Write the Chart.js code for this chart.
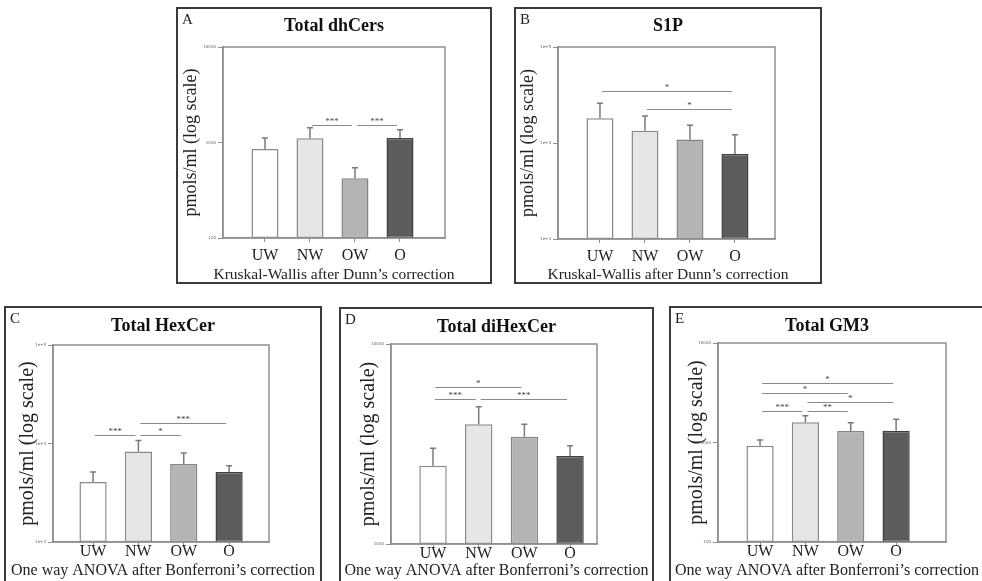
<!DOCTYPE html>
<html>
<head>
<meta charset="utf-8">
<title>Sphingolipids by weight group</title>
<script src="https://cdn.jsdelivr.net/npm/chart.js@4.4.1/dist/chart.umd.min.js"></script>
<style>
  body { margin: 0; background: #fff; }
  #page { position: relative; width: 982px; height: 581px; overflow: hidden; font-family: "Liberation Serif", "Times New Roman", serif; }
  .panel { position: absolute; outline: 2px solid #3a3a3a; outline-offset: -2px; }
  .panel canvas { position: absolute; left: 0; top: 0; }
  .letter { position: absolute; left: 6px; top: 5px; font-size: 15px; line-height: 1; color: #222; }
</style>
</head>
<body>
<div id="page"></div>
<script>
const groups = ["UW", "NW", "OW", "O"];

// A: Total dhCers
const dhCersMean = [855, 1110, 422, 1115];
const dhCersSd = [260, 320, 123, 245];
const dhCersSig = [[1, 2, 1525, "***"], [2, 3, 1525, "***"]];
const dhCersTicks = [100, 1000, 10000];
const dhCersTickLabels = ["100", "1000", "10000"];

// B: S1P
const s1pMean = [18100, 13400, 10900, 7700];
const s1pSd = [7800, 5700, 4400, 4500];
const s1pSig = [[0, 3, 35100, "*"], [1, 3, 22400, "*"]];
const s1pTicks = [1000, 10000, 100000];
const s1pTickLabels = ["1e+3", "1e+4", "1e+5"];

// C: Total HexCer
const hexCerMean = [4060, 8300, 6180, 5130];
const hexCerSd = [1070, 2400, 1820, 810];
const hexCerSig = [[0, 1, 12250, "***"], [1, 2, 12250, "*"], [1, 3, 16100, "***"]];
const hexCerTicks = [1000, 10000, 100000];
const hexCerTickLabels = ["1e+3", "1e+4", "1e+5"];

// D: Total diHexCer
const diHexCerMean = [2465, 3965, 3440, 2755];
const diHexCerSd = [545, 895, 525, 345];
const diHexCerSig = [[0, 2, 6120, "*"], [0, 1, 5310, "***"], [1, 3, 5310, "***"]];
const diHexCerTicks = [1000, 10000];
const diHexCerTickLabels = ["1000", "10000"];

// E: Total GM3
const gm3Mean = [929, 1596, 1305, 1310];
const gm3Sd = [131, 264, 275, 400];
const gm3Sig = [[0, 3, 3990, "*"], [0, 2, 3160, "*"], [1, 3, 2570, "*"], [0, 1, 2090, "***"], [1, 2, 2090, "**"]];
const gm3Ticks = [100, 1000, 10000];
const gm3TickLabels = ["100", "1000", "10000"];

const kruskal = "Kruskal-Wallis after Dunn\u2019s correction";
const anova = "One way ANOVA after Bonferroni\u2019s correction";

const SERIF = "'Liberation Serif', 'Times New Roman', serif";
const barFill = ["#ffffff", "#e6e6e6", "#b4b4b4", "#5c5c5c"];
const barEdge = ["#8a8a8a", "#8a8a8a", "#858585", "#404040"];

// panel placement on the page (px); top row and bottom row differ a bit in text sizes
const panels = [
  { letter: "A", title: "Total dhCers", footer: kruskal, mean: dhCersMean, sd: dhCersSd, sig: dhCersSig,
    ticks: dhCersTicks, tickLabels: dhCersTickLabels,
    left: 176, top: 7, divW: 316, divH: 277, w: 316, h: 277, footSize: 15.5, yTitleSize: 18, tickPad: 4,
    plot: { l: 47, t: 40, r: 269, b: 231 }, titleY: 19.2, yTitleX: 15, xMin: 0.067, xMax: 5 },
  { letter: "B", title: "S1P", footer: kruskal, mean: s1pMean, sd: s1pSd, sig: s1pSig,
    ticks: s1pTicks, tickLabels: s1pTickLabels,
    left: 514, top: 7, divW: 308, divH: 277, w: 308, h: 277, footSize: 15.5, yTitleSize: 18, tickPad: 4,
    plot: { l: 44, t: 40, r: 261, b: 232 }, titleY: 19.7, yTitleX: 14, xMin: 0.067, xMax: 4.89 },
  { letter: "C", title: "Total HexCer", footer: anova, mean: hexCerMean, sd: hexCerSd, sig: hexCerSig,
    ticks: hexCerTicks, tickLabels: hexCerTickLabels,
    left: 4, top: 306, divW: 318, divH: 290, w: 318, h: 274, footSize: 16, yTitleSize: 20, tickPad: -3.5,
    plot: { l: 49, t: 39, r: 265, b: 236 }, titleY: 20, yTitleX: 23.5, xMin: 0.117, xMax: 4.88 },
  { letter: "D", title: "Total diHexCer", footer: anova, mean: diHexCerMean, sd: diHexCerSd, sig: diHexCerSig,
    ticks: diHexCerTicks, tickLabels: diHexCerTickLabels,
    left: 339, top: 307, divW: 315, divH: 290, w: 315, h: 273, footSize: 16, yTitleSize: 20, tickPad: -3.5,
    plot: { l: 52, t: 37, r: 258, b: 237 }, titleY: 20.3, yTitleX: 30, xMin: 0.08, xMax: 4.59 },
  { letter: "E", title: "Total GM3", footer: anova, mean: gm3Mean, sd: gm3Sd, sig: gm3Sig,
    ticks: gm3Ticks, tickLabels: gm3TickLabels,
    left: 669, top: 306, divW: 330, divH: 290, w: 316, h: 274, footSize: 16, yTitleSize: 20, tickPad: -3.5,
    plot: { l: 49, t: 37, r: 277, b: 236 }, titleY: 20.7, yTitleX: 28, xMin: 0.073, xMax: 5.1 },
];

// frame, error bars (upper only) and significance brackets
const marksPlugin = {
  id: "sigMarks",
  afterDatasetsDraw(chart, args, opts) {
    const { ctx, chartArea, scales } = chart;
    const xs = scales.x, ys = scales.y;
    const data = chart.data.datasets[0].data;
    ctx.save();

    ctx.strokeStyle = "#8f8f8f";
    ctx.lineWidth = 1.5;
    ctx.strokeRect(chartArea.left, chartArea.top, chartArea.right - chartArea.left, chartArea.bottom - chartArea.top);

    ctx.strokeStyle = "#7a7a7a";
    ctx.lineWidth = 1.5;
    chart.getDatasetMeta(0).data.forEach((bar, i) => {
      const yTop = ys.getPixelForValue(data[i].y + opts.sd[i]);
      ctx.beginPath();
      ctx.moveTo(bar.x, bar.y);
      ctx.lineTo(bar.x, yTop);
      ctx.moveTo(bar.x - 3, yTop);
      ctx.lineTo(bar.x + 3, yTop);
      ctx.stroke();
    });

    ctx.strokeStyle = "#8a8a8a";
    ctx.lineWidth = 1;
    ctx.fillStyle = "#444";
    ctx.font = "9px " + SERIF;
    ctx.textAlign = "center";
    ctx.textBaseline = "alphabetic";
    opts.brackets.forEach(([from, to, val, label]) => {
      const x1 = xs.getPixelForValue(from + 1) + 2;
      const x2 = xs.getPixelForValue(to + 1) - 3;
      const yy = Math.round(ys.getPixelForValue(val)) + 0.5;
      ctx.beginPath();
      ctx.moveTo(x1, yy);
      ctx.lineTo(x2, yy);
      ctx.stroke();
      ctx.fillText(label, (x1 + x2) / 2, yy - 1.5);
    });
    ctx.restore();
  },
};

const page = document.getElementById("page");

panels.forEach((p) => {
  const wrap = document.createElement("div");
  wrap.className = "panel";
  wrap.style.left = p.left + "px";
  wrap.style.top = p.top + "px";
  wrap.style.width = p.divW + "px";
  wrap.style.height = p.divH + "px";

  const canvas = document.createElement("canvas");
  canvas.width = p.w;
  canvas.height = p.h;
  canvas.style.width = p.w + "px";
  canvas.style.height = p.h + "px";
  wrap.appendChild(canvas);

  const letter = document.createElement("div");
  letter.className = "letter";
  letter.textContent = p.letter;
  wrap.appendChild(letter);
  page.appendChild(wrap);

  const footLine = p.footSize * 1.2;
  const titleHalf = 18 * 1.2 / 2;

  new Chart(canvas, {
    type: "bar",
    data: {
      datasets: [{
        data: p.mean.map((v, i) => ({ x: i + 1, y: v })),
        backgroundColor: barFill,
        borderColor: barEdge,
        borderWidth: 1.5,
        borderSkipped: false,
        categoryPercentage: 1,
        barPercentage: 0.6,
      }],
    },
    options: {
      responsive: false,
      animation: false,
      devicePixelRatio: 1,
      layout: { padding: 0 },
      plugins: {
        legend: { display: false },
        tooltip: { enabled: false },
        title: {
          display: true,
          text: p.title,
          color: "#111",
          font: { family: SERIF, size: 18, weight: "bold" },
          padding: { top: p.titleY - titleHalf, bottom: p.plot.t - p.titleY - titleHalf },
        },
        subtitle: {
          display: true,
          position: "bottom",
          text: p.footer,
          color: "#222",
          font: { family: SERIF, size: p.footSize },
          padding: { top: 0, bottom: 0 },
        },
        sigMarks: { sd: p.sd, brackets: p.sig },
      },
      scales: {
        x: {
          type: "linear",
          min: p.xMin,
          max: p.xMax,
          offset: false,
          grid: { display: true, offset: false, drawOnChartArea: false, drawTicks: true, tickLength: 4, color: "#8f8f8f" },
          border: { display: true, color: "#8f8f8f", width: 1.5 },
          ticks: {
            color: "#222",
            padding: p.tickPad,
            font: { family: SERIF, size: 16 },
            callback: (v) => groups[v - 1],
          },
          afterBuildTicks: (s) => { s.ticks = groups.map((_, i) => ({ value: i + 1 })); },
          afterFit: (s) => { s.height = p.h - footLine - p.plot.b; },
        },
        y: {
          type: "logarithmic",
          min: p.ticks[0],
          max: p.ticks[p.ticks.length - 1],
          grid: { display: true, drawOnChartArea: false, drawTicks: true, tickLength: 5, color: "#8f8f8f" },
          border: { display: true, color: "#8f8f8f", width: 1.5 },
          ticks: {
            color: "#666",
            padding: 2,
            font: { family: "'DejaVu Sans', sans-serif", size: 4 },
            callback: (v, i) => p.tickLabels[i],
          },
          title: {
            display: true,
            text: "pmols/ml (log scale)",
            color: "#222",
            font: { family: SERIF, size: p.yTitleSize },
            padding: { top: p.yTitleX - p.yTitleSize * 0.6, bottom: 0 },
          },
          afterBuildTicks: (s) => { s.ticks = p.ticks.map((v) => ({ value: v })); },
          afterFit: (s) => { s.width = p.plot.l; },
        },
        // empty right-hand spacer so titles stay centred on the whole panel
        spacer: {
          type: "linear",
          position: "right",
          display: true,
          grid: { display: false },
          border: { display: false },
          ticks: { display: false },
          afterFit: (s) => { s.width = p.w - p.plot.r; },
        },
      },
    },
    plugins: [marksPlugin],
  });
});
</script>
</body>
</html>
